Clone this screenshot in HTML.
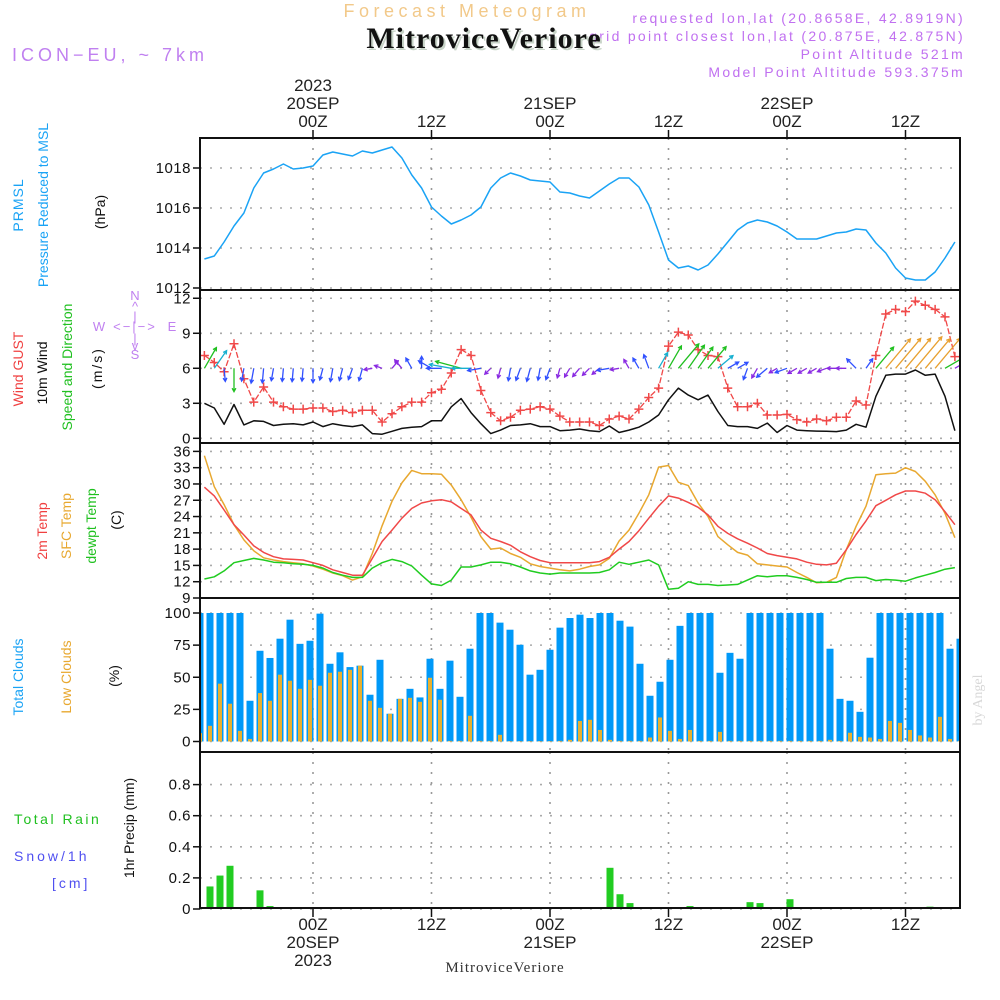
<!DOCTYPE html>
<html><head><meta charset="utf-8">
<style>
html,body{margin:0;padding:0;background:#fff;}
svg{display:block;font-family:"Liberation Sans",sans-serif;}
</style></head>
<body>
<svg id="chart" width="1000" height="1000" viewBox="0 0 1000 1000" xmlns="http://www.w3.org/2000/svg">
<defs><clipPath id="plotclip"><rect x="200" y="130" width="760" height="790"/></clipPath></defs>
<g>
<g font-size="14" fill="#c070f0" text-anchor="end" letter-spacing="2.3">
<text x="965" y="23">requested lon,lat (20.8658E, 42.8919N)</text>
<text x="965" y="41">grid point closest lon,lat (20.875E, 42.875N)</text>
<text x="965" y="59">Point Altitude 521m</text>
<text x="965" y="77">Model Point Altitude 593.375m</text>
</g>
<text x="467" y="17" text-anchor="middle" font-size="18" fill="#f2c98a" letter-spacing="4.5">Forecast Meteogram</text>
<text x="486" y="50" text-anchor="middle" font-size="30" font-weight="bold" fill="#c8d4c8" font-family="Liberation Serif, serif" letter-spacing="1">MitroviceVeriore</text>
<text x="484" y="48" text-anchor="middle" font-size="30" font-weight="bold" fill="#111" font-family="Liberation Serif, serif" letter-spacing="1">MitroviceVeriore</text>
<text x="12" y="61" font-size="18" fill="#c080f0" letter-spacing="4">ICON−EU, ~ 7km</text>
</g>
<g id="grid"></g>
<g id="marks" clip-path="url(#plotclip)"></g>
<g id="frames"></g>
<g id="axes" font-size="15" fill="#111"></g>
<g font-size="14">
<text transform="translate(23,205) rotate(-90)" text-anchor="middle" fill="#1aa3f5" letter-spacing="1">PRMSL</text>
<text transform="translate(48,205) rotate(-90)" text-anchor="middle" fill="#1aa3f5">Pressure Reduced to MSL</text>
<text transform="translate(105,212) rotate(-90)" text-anchor="middle" fill="#111">(hPa)</text>
<text transform="translate(23,369) rotate(-90)" text-anchor="middle" fill="#f04040">Wind GUST</text>
<text transform="translate(47,373) rotate(-90)" text-anchor="middle" fill="#111">10m Wind</text>
<text transform="translate(72,367) rotate(-90)" text-anchor="middle" fill="#20c020">Speed and Direction</text>
<text transform="translate(102,368) rotate(-90)" text-anchor="middle" fill="#111" letter-spacing="2">(m/s)</text>
<g font-size="13" fill="#c080f0" text-anchor="middle">
<text x="135" y="300">N</text><text x="135" y="311">^</text><text x="135" y="321">|</text>
<text x="135" y="331" letter-spacing="2">&lt;−|−&gt;</text><text x="99" y="331">W</text><text x="172" y="331">E</text>
<text x="135" y="343">|</text><text x="135" y="350">v</text><text x="135" y="359">S</text>
</g>
<text transform="translate(47,531) rotate(-90)" text-anchor="middle" fill="#f04040">2m Temp</text>
<text transform="translate(71,526) rotate(-90)" text-anchor="middle" fill="#e8a830">SFC Temp</text>
<text transform="translate(96,526) rotate(-90)" text-anchor="middle" fill="#20c020">dewpt Temp</text>
<text transform="translate(121,520) rotate(-90)" text-anchor="middle" fill="#111">(C)</text>
<text transform="translate(23,677) rotate(-90)" text-anchor="middle" fill="#1aa3f5">Total Clouds</text>
<text transform="translate(71,677) rotate(-90)" text-anchor="middle" fill="#e8a830">Low Clouds</text>
<text transform="translate(119,676) rotate(-90)" text-anchor="middle" fill="#111">(%)</text>
<text x="14" y="824" fill="#20c020" letter-spacing="2.5">Total   Rain</text>
<text x="14" y="861" fill="#5050f0" letter-spacing="3">Snow/1h</text>
<text x="52" y="888" fill="#5050f0" letter-spacing="3">[cm]</text>
<text transform="translate(134,828) rotate(-90)" text-anchor="middle" fill="#111">1hr Precip (mm)</text>
<text transform="translate(982,700) rotate(-90)" text-anchor="middle" fill="#d8d8d8" font-family="Liberation Serif, serif">by Angel</text>
</g>
<text x="505" y="972" text-anchor="middle" font-size="15" fill="#333" font-family="Liberation Serif, serif" letter-spacing="1">MitroviceVeriore</text>
</svg>
<script>
const pressure=[1013.45,1013.6,1014.3,1015.1,1015.75,1017,1017.75,1017.95,1018.2,1017.95,1018.0,1018.1,1018.65,1018.8,1018.7,1018.6,1018.85,1018.75,1018.9,1019.05,1018.5,1017.65,1017,1016.05,1015.6,1015.2,1015.4,1015.65,1016.05,1017,1017.5,1017.75,1017.6,1017.4,1017.35,1017.3,1016.8,1016.75,1016.6,1016.5,1016.85,1017.2,1017.5,1017.5,1017.05,1016.15,1014.8,1013.4,1013,1013.1,1012.9,1013.15,1013.7,1014.3,1014.9,1015.25,1015.4,1015.3,1015.1,1014.8,1014.45,1014.45,1014.45,1014.6,1014.75,1014.8,1014.95,1014.9,1014.25,1013.75,1013,1012.5,1012.4,1012.4,1012.8,1013.5,1014.3];
const gust=[7.1,6.5,5.7,8.1,5.1,3.1,4.4,3.1,2.7,2.5,2.5,2.6,2.6,2.3,2.4,2.2,2.4,2.4,1.4,2.1,2.7,3.1,3.1,3.9,4.2,5.6,7.6,7.1,4.1,2.2,1.5,1.8,2.4,2.5,2.7,2.5,1.9,1.4,1.4,1.4,1.1,1.65,1.9,1.65,2.5,3.5,4.3,7.9,9.1,8.85,7.6,7.1,7.0,4.3,2.7,2.7,3.0,2.0,2.0,2.05,1.6,1.4,1.65,1.5,1.8,1.8,3.2,2.85,7.1,10.65,11.05,10.85,11.75,11.4,11.05,10.4,7.0];
const wind=[3.0,2.6,1.2,2.9,1.15,1.5,1.45,1.1,1.2,1.25,1.15,1.4,1.0,1.25,1.1,1.0,1.15,0.4,0.35,0.6,0.85,0.95,1.0,1.5,1.5,2.7,3.4,2.2,1.25,0.4,0.7,1.1,1.15,1.25,1.0,1.0,0.65,0.7,0.8,0.65,0.57,1.05,0.5,0.7,0.95,1.4,2.0,3.3,4.3,3.7,3.3,3.7,2.3,1.1,1.0,1.0,0.85,1.3,0.5,1.1,0.7,0.65,0.62,0.6,0.57,0.7,1.2,0.95,3.6,5.4,5.5,5.5,5.85,5.4,5.5,3.6,0.65];
const windDir=[30,35,175,180,190,190,185,190,185,185,185,180,195,190,195,200,195,260,290,40,320,330,0,300,270,280,285,270,260,225,195,190,200,195,190,200,195,210,220,225,230,260,260,330,330,340,30,30,40,35,35,40,50,60,60,200,210,230,240,250,240,240,240,250,270,270,315,35,40,40,40,40,40,40,40,60,60];
const temp2m=[29.4,27.8,25.2,22.5,20.6,18.6,17.4,16.6,16.2,16.1,16.0,15.5,15.0,14.2,13.7,13.2,13.2,16.3,19.4,21.5,23.7,25.5,26.5,26.9,27.1,26.7,25.5,24.3,21.5,20.0,19.4,18.7,17.5,16.6,15.9,15.5,15.5,15.5,15.5,15.5,15.7,16.5,18.0,19.4,21.4,23.7,25.9,27.8,27.4,26.6,25.7,24.3,22.2,20.9,19.9,19.1,18.2,17.2,16.8,16.5,16.2,15.6,15.2,15.1,15.4,17.9,20.7,23.2,26.0,27.0,28.0,28.7,28.7,28.3,27.1,24.9,22.5];
const sfcTemp=[35.2,29.5,26.2,22.5,19.7,17.7,16.4,16.0,15.7,15.5,15.3,14.9,14.3,13.6,13.1,12.3,12.9,17.2,22.3,26.8,30.2,32.5,31.9,31.9,31.8,29.8,27.1,23.9,20.3,18.0,18.2,17.2,16.5,15.3,14.8,14.5,14.2,14.0,14.3,14.8,15.1,16.3,19.5,21.5,24.6,28.0,33.1,33.4,30.3,29.7,26.5,24.0,20.3,18.8,17.4,16.9,15.3,15.1,14.9,14.7,13.7,12.8,11.8,11.9,12.8,17.9,22.2,25.9,31.7,31.9,32.0,33.0,32.3,30.5,28.0,24.6,20.1];
const dewpt=[12.5,12.9,14.0,15.5,15.9,16.3,16.0,15.6,15.5,15.3,15.2,15.0,14.5,13.7,13.2,12.8,12.8,14.5,15.5,16.1,15.7,14.9,13.2,11.6,11.3,12.3,14.7,14.7,15.1,15.6,15.6,15.3,14.7,14.0,13.6,13.4,13.6,13.6,13.6,13.6,13.7,14.2,15.6,15.2,15.6,16.0,15.1,10.6,10.8,12.0,11.5,11.5,11.3,11.4,11.5,12.3,13.1,12.9,13.1,13.1,12.8,12.4,11.9,11.9,11.9,12.6,12.8,12.8,12.2,12.4,12.3,12.1,12.7,13.2,13.7,14.3,14.6];
const totalClouds=[100,100,100,100,100,31.7,70.6,65,80,94.8,76,78.4,99.5,60.5,69.4,57.9,59,36.4,63.6,21.6,33.2,41,34.3,64.4,41,62.9,34.8,72.2,100,100,92.5,87,75.3,52,55.8,71.4,88.6,96.1,98.7,96.1,100,100,94,89.4,60.5,35.6,46.5,63.6,90,100,100,100,53.5,69,64.4,100,100,100,100,100,100,100,100,72.2,33.2,31.7,23.1,65.2,100,100,100,100,100,100,100,72.2,80];
const lowClouds=[6.5,12.2,45,29.4,8.3,2,37.7,31.7,52,47.3,41,48,43.4,53.5,54.3,55.8,59,31.7,26.2,21.6,33.2,34,30.9,49.6,32.5,0.5,0.5,20,0.5,0.5,5.2,0.3,0.3,0.3,0.3,0.3,0.5,1.3,16,16.9,9,1.3,0.5,0.5,0.5,3.1,18.7,8.3,2,9,0.5,0.5,7.5,0.5,0.5,0.5,0.5,0.5,0.5,0.5,0.5,0.5,0.5,1.3,0.5,6.8,3.6,3.1,2,16,14.5,9,4.7,3.1,19.2,2,0.5];
const precip=[0,0.145,0.215,0.278,0,0,0.12,0.019,0,0,0,0,0,0,0,0,0,0,0,0,0,0,0,0,0,0,0,0,0,0,0,0,0,0,0,0,0,0,0,0,0,0.265,0.095,0.038,0,0,0,0,0,0.019,0,0,0,0,0,0.044,0.038,0,0,0.063,0,0,0,0,0,0,0,0,0,0,0,0,0.01,0.015,0.01,0,0];
const pressTicks=[1012,1014,1016,1018];
const windTicks=[0,3,6,9,12];
const tempTicks=[9,12,15,18,21,24,27,30,33,36];
const cloudTicks=[0,25,50,75,100];
const precipTicks=[0,0.2,0.4,0.6,0.8];
const timeTicks=[11,23,35,47,59,71];
const topLabels=["00Z","12Z","00Z","12Z","00Z","12Z"];
const dateLabels=["20SEP","","21SEP","","22SEP",""];

const NS="http://www.w3.org/2000/svg";
const xT=i=>313+(i-11)*9.875;
const xB=j=>200+10*j;
const yP=v=>168+(1018-v)*20;
const yW=v=>438.3-v*11.67;
const yTm=v=>598-(v-9)*5.43;
const yC=v=>741.5-v*1.285;
const yR=v=>909-v*155.5;
function mk(tag,attrs,parent){const e=document.createElementNS(NS,tag);for(const k in attrs)e.setAttribute(k,attrs[k]);parent.appendChild(e);return e;}
const grid=document.getElementById('grid'),marks=document.getElementById('marks'),frames=document.getElementById('frames'),axes=document.getElementById('axes');
const panels=[{t:138,b:290,ticks:pressTicks,y:yP,fmt:v=>String(v)},{t:290,b:443,ticks:windTicks,y:yW,fmt:v=>String(v)},{t:443,b:598,ticks:tempTicks,y:yTm,fmt:v=>String(v)},{t:598,b:752,ticks:cloudTicks,y:yC,fmt:v=>String(v)},{t:752,b:908,ticks:precipTicks,y:yR,fmt:v=>v===0?"0":v.toFixed(1)}];
panels.forEach((p,pi)=>{
  p.ticks.forEach(v=>{
    const y=p.y(v);
    const gl=mk('line',{x1:200,x2:960,y1:y,y2:y,stroke:'#aaa','stroke-width':1.6,'stroke-dasharray':'2 8'},grid);
    
    
    const tk=mk('line',{x1:193,x2:200,y1:y,y2:y,stroke:'#111','stroke-width':1.5},axes);
    
    
    const tx=mk('text',{x:191,y:y+5,'text-anchor':'end','letter-spacing':0.5},axes);
    tx.textContent=p.fmt(v);
    
    
  });
  timeTicks.forEach(i=>{
    const vl=mk('line',{x1:xT(i),x2:xT(i),y1:p.t,y2:p.b,stroke:'#999','stroke-width':1.6,'stroke-dasharray':'2 8'},grid);
    
    
  });
  const fr=mk('rect',{x:200,y:p.t,width:760,height:p.b-p.t,fill:'none',stroke:'#111','stroke-width':2},frames);
  
  
});
timeTicks.forEach((i,k)=>{
  const x=xT(i);
  const t1=mk('line',{x1:x,x2:x,y1:130,y2:138,stroke:'#111','stroke-width':1.5},axes);
  
  
  const t2=mk('line',{x1:x,x2:x,y1:908,y2:917,stroke:'#111','stroke-width':1.5},axes);
  
  
  const a=mk('text',{x:x,y:127,'text-anchor':'middle','font-size':17,fill:'#222'},axes);
  a.textContent=topLabels[k];
  
  
  const b=mk('text',{x:x,y:930,'text-anchor':'middle','font-size':17,fill:'#222'},axes);
  b.textContent=topLabels[k];
  
  
  if(dateLabels[k]){
    const c=mk('text',{x:x,y:109,'text-anchor':'middle','font-size':17,fill:'#222'},axes);
    c.textContent=dateLabels[k];
    
    
    const d=mk('text',{x:x,y:948,'text-anchor':'middle','font-size':17,fill:'#222'},axes);
    d.textContent=dateLabels[k];
    
    
  }
});
const y1=mk('text',{x:xT(11),y:91,'text-anchor':'middle','font-size':17,fill:'#222'},axes);
y1.textContent='2023';


const y2=mk('text',{x:xT(11),y:966,'text-anchor':'middle','font-size':17,fill:'#222'},axes);
y2.textContent='2023';



function line(arr,yf,color,name,w,dash){
  const pts=arr.map((v,i)=>xT(i).toFixed(1)+','+yf(v).toFixed(1)).join(' ');
  const at={points:pts,fill:'none',stroke:color,'stroke-width':w||1.5,'stroke-linejoin':'round'};
  if(dash)at['stroke-dasharray']=dash;
  const pl=mk('polyline',at,marks);
  
  
}
line(pressure,yP,'#1aa3f5','pressure-line');
totalClouds.forEach((v,j)=>{
  const r=mk('rect',{x:xB(j)-3.5,y:yC(v),width:7,height:yC(0)-yC(v),fill:'#0099f8'},marks);
  
  
});
lowClouds.forEach((v,j)=>{
  const r=mk('rect',{x:xB(j)-2,y:yC(v),width:4,height:yC(0)-yC(v),fill:'#e8b030'},marks);
  
  
});
precip.forEach((v,j)=>{
  if(v<=0)return;
  const r=mk('rect',{x:xB(j)-3.5,y:yR(v),width:7,height:yR(0)-yR(v),fill:'#22cc22'},marks);
  
  
});
const base=mk('line',{x1:200,x2:960,y1:yR(0)-1,y2:yR(0)-1,stroke:'#444','stroke-width':1,'stroke-dasharray':'3 2'},marks);


line(sfcTemp,yTm,'#e8a830','sfc-temp-line');
line(temp2m,yTm,'#f04848','temp-2m-line');
line(dewpt,yTm,'#20cc20','dewpoint-line');
line(wind,yW,'#111','wind-speed-line');
line(gust,yW,'#f04848','gust-line',1.3,'6 2');
gust.forEach((v,i)=>{
  const x=xT(i),y=yW(v);
  const p=mk('path',{d:`M${x-4.5},${y}H${x+4.5}M${x},${y-4.5}V${y+4.5}`,stroke:'#f04848','stroke-width':1.5},marks);
  
  
});
function wcol(s){return s<0.9?'#8a2be2':s<1.8?'#3050ff':s<2.8?'#18b0d0':s<4.8?'#20c020':'#e8a030';}
windDir.forEach((d,i)=>{
  const s=wind[i],L=6+6*s,a=d*Math.PI/180;
  const x0=xT(i),y0=yW(6);
  const x1=x0+L*Math.sin(a),y1=y0-L*Math.cos(a);
  const h=4,b1=a+Math.PI-0.5,b2=a+Math.PI+0.5;
  const dd=`M${x0.toFixed(1)},${y0.toFixed(1)}L${x1.toFixed(1)},${y1.toFixed(1)}M${(x1+h*Math.sin(b1)).toFixed(1)},${(y1-h*Math.cos(b1)).toFixed(1)}L${x1.toFixed(1)},${y1.toFixed(1)}L${(x1+h*Math.sin(b2)).toFixed(1)},${(y1-h*Math.cos(b2)).toFixed(1)}`;
  const p=mk('path',{d:dd,stroke:wcol(s),'stroke-width':1.3,fill:'none'},marks);
  
  
});
</script>
</body></html>
